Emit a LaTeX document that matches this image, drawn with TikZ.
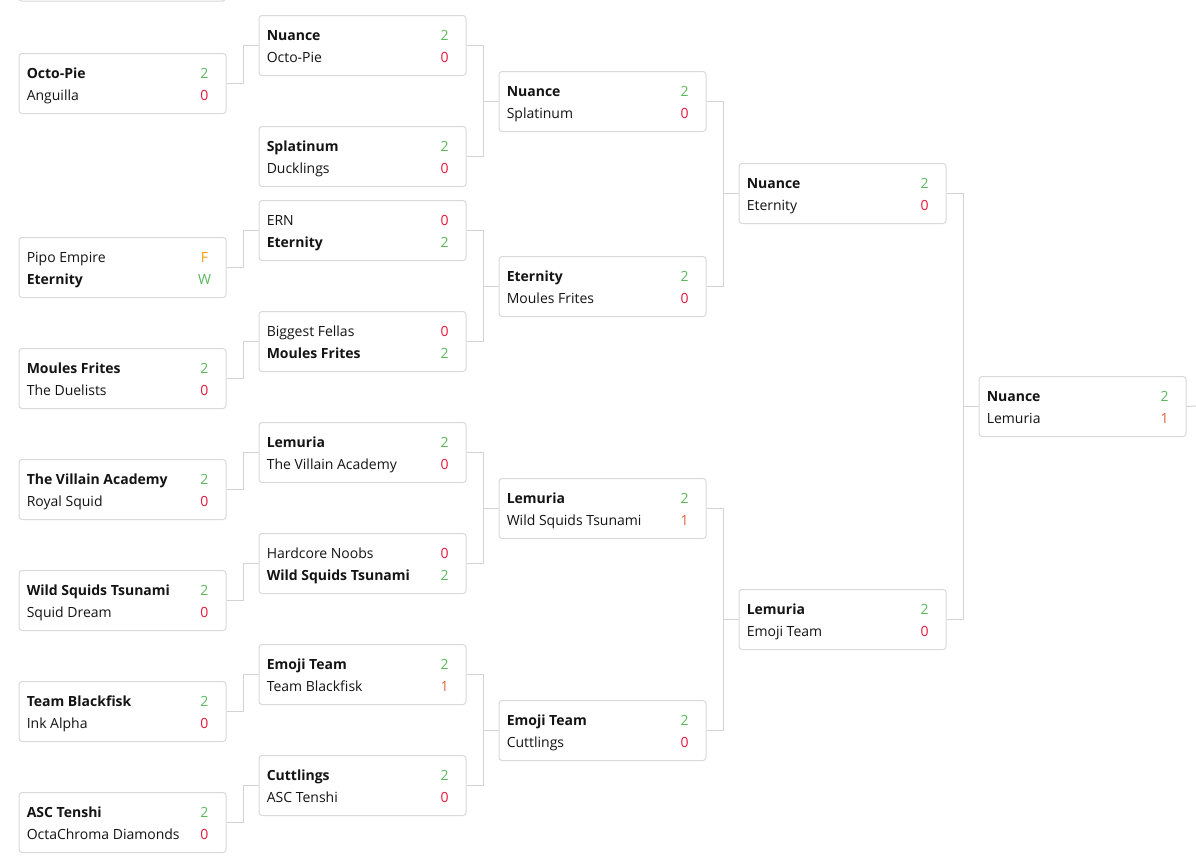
\documentclass[tikz,border=0pt]{standalone}
\usepackage{fontspec}
\setmainfont{Open Sans}
\usetikzlibrary{calc}
\definecolor{boxline}{HTML}{D9D9D9}
\definecolor{connline}{HTML}{D3D3D3}
\definecolor{win}{HTML}{5CB85C}
\definecolor{lose}{HTML}{E8173A}
\definecolor{mid}{HTML}{E3643C}
\definecolor{forfeit}{HTML}{F59A0C}
\definecolor{txt}{HTML}{141414}
\tikzset{
  matchbox/.style={draw=boxline, line width=0.75pt, rounded corners=2.25pt, fill=white,
    minimum width=155.25pt, minimum height=45pt, inner sep=0pt, anchor=north west},
  team/.style={anchor=base west, inner sep=0pt, text=txt, font=\fontsize{10.5pt}{12pt}\selectfont},
  score/.style={anchor=base, inner sep=0pt, font=\fontsize{10.5pt}{12pt}\selectfont},
  conn/.style={draw=connline, line width=0.75pt},
}
% #1 name, #2 top-left, #3 team1, #4 colour1, #5 score1, #6 team2, #7 colour2, #8 score2
\newcommand{\matchbox}[8]{%
  \node[matchbox] (#1) at (#2) {};
  \node[team] (#1-ta) at ($(#1.north west)+(8,25.3)$) {#3};
  \node[score, text=#4] (#1-sa) at ($(#1.north east)+(-22,25.3)$) {#5};
  \node[team] (#1-tb) at ($(#1.north west)+(8,47.3)$) {#6};
  \node[score, text=#7] (#1-sb) at ($(#1.north east)+(-22,47.3)$) {#8};
}
\newcommand{\link}[2]{\draw[conn] (#1.east) -- ++(16.5,0) |- (#2.west);}
\begin{document}
\begin{tikzpicture}[x=0.75pt,y=-0.75pt]
\useasboundingbox (0,0) rectangle (1196,861);
\begin{scope}
\clip (0,0) rectangle (1196,861);
\draw[draw=boxline, line width=0.75pt, rounded corners=2.25pt] (18.5,-60) rectangle (225.5,1);
% round 1
\matchbox{ra}{18.5,53}{\bfseries Octo-Pie}{win}{2}{Anguilla}{lose}{0}
\matchbox{rb}{18.5,237}{Pipo Empire}{forfeit}{F}{\bfseries Eternity}{win}{W}
\matchbox{rc}{18.5,348}{\bfseries Moules Frites}{win}{2}{The Duelists}{lose}{0}
\matchbox{rd}{18.5,459}{\bfseries The Villain Academy}{win}{2}{Royal Squid}{lose}{0}
\matchbox{re}{18.5,570}{\bfseries Wild Squids Tsunami}{win}{2}{Squid Dream}{lose}{0}
\matchbox{rf}{18.5,681}{\bfseries Team Blackfisk}{win}{2}{Ink Alpha}{lose}{0}
\matchbox{rg}{18.5,792}{\bfseries ASC Tenshi}{win}{2}{OctaChroma Diamonds}{lose}{0}
% round 2
\matchbox{sa}{258.5,15}{\bfseries Nuance}{win}{2}{Octo-Pie}{lose}{0}
\matchbox{sb}{258.5,126}{\bfseries Splatinum}{win}{2}{Ducklings}{lose}{0}
\matchbox{sc}{258.5,200}{ERN}{lose}{0}{\bfseries Eternity}{win}{2}
\matchbox{sd}{258.5,311}{Biggest Fellas}{lose}{0}{\bfseries Moules Frites}{win}{2}
\matchbox{se}{258.5,422}{\bfseries Lemuria}{win}{2}{The Villain Academy}{lose}{0}
\matchbox{sf}{258.5,533}{Hardcore Noobs}{lose}{0}{\bfseries Wild Squids Tsunami}{win}{2}
\matchbox{sg}{258.5,644}{\bfseries Emoji Team}{win}{2}{Team Blackfisk}{mid}{1}
\matchbox{sh}{258.5,755}{\bfseries Cuttlings}{win}{2}{ASC Tenshi}{lose}{0}
% round 3
\matchbox{qa}{498.5,71}{\bfseries Nuance}{win}{2}{Splatinum}{lose}{0}
\matchbox{qb}{498.5,256}{\bfseries Eternity}{win}{2}{Moules Frites}{lose}{0}
\matchbox{qc}{498.5,478}{\bfseries Lemuria}{win}{2}{Wild Squids Tsunami}{mid}{1}
\matchbox{qd}{498.5,700}{\bfseries Emoji Team}{win}{2}{Cuttlings}{lose}{0}
% round 4
\matchbox{pa}{738.5,163}{\bfseries Nuance}{win}{2}{Eternity}{lose}{0}
\matchbox{pb}{738.5,589}{\bfseries Lemuria}{win}{2}{Emoji Team}{lose}{0}
% final
\matchbox{fa}{978.5,376}{\bfseries Nuance}{win}{2}{Lemuria}{mid}{1}
\coordinate (out) at (1196,406);
% connectors
\link{ra}{sa}
\link{rb}{sc}
\link{rc}{sd}
\link{rd}{se}
\link{re}{sf}
\link{rf}{sg}
\link{rg}{sh}
\link{sa}{qa}\link{sb}{qa}
\link{sc}{qb}\link{sd}{qb}
\link{se}{qc}\link{sf}{qc}
\link{sg}{qd}\link{sh}{qd}
\link{qa}{pa}\link{qb}{pa}
\link{qc}{pb}\link{qd}{pb}
\link{pa}{fa}\link{pb}{fa}
\draw[conn] (fa.east) -- (out);
\end{scope}
\end{tikzpicture}
\end{document}
